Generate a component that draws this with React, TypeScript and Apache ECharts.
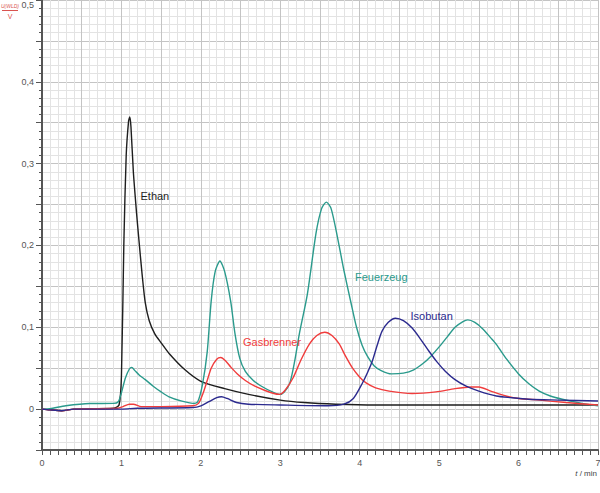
import React, { useEffect, useRef } from "react";
import * as echarts from "echarts";

// [t (min), U (V)]
const ethanData: [number, number][] = [
  [0, 0], [0.1, -0.001], [0.25, -0.002], [0.4, 0], [0.9, 0.001], [0.97, 0.005],
  [1.0, 0.04], [1.03, 0.2], [1.06, 0.31], [1.09, 0.352], [1.105, 0.357], [1.12, 0.345],
  [1.15, 0.29], [1.19, 0.24], [1.22, 0.207], [1.26, 0.165], [1.3, 0.13], [1.35, 0.108],
  [1.42, 0.092], [1.5, 0.081], [1.6, 0.068], [1.8, 0.048], [2.0, 0.034], [2.3, 0.025],
  [2.6, 0.018], [3.0, 0.011], [3.3, 0.008], [3.7, 0.006], [4.2, 0.005], [5, 0.005], [7, 0.005],
];

const feuerzeugData: [number, number][] = [
  [0, 0], [0.1, 0.0005], [0.3, 0.004], [0.6, 0.0068], [0.9, 0.007], [0.96, 0.009],
  [1.0, 0.02], [1.05, 0.038], [1.1, 0.049], [1.13, 0.051], [1.17, 0.047], [1.22, 0.042],
  [1.3, 0.036], [1.4, 0.028], [1.5, 0.021], [1.6, 0.015], [1.75, 0.01], [1.9, 0.007],
  [1.96, 0.009], [2.02, 0.03], [2.08, 0.07], [2.13, 0.132], [2.18, 0.168], [2.24, 0.181],
  [2.3, 0.168], [2.375, 0.132], [2.43, 0.092], [2.49, 0.062], [2.56, 0.046], [2.66, 0.035],
  [2.78, 0.027], [2.9, 0.021], [2.99, 0.018], [3.05, 0.021], [3.12, 0.032], [3.18, 0.058],
  [3.24, 0.092], [3.34, 0.14], [3.45, 0.215], [3.52, 0.245], [3.58, 0.253], [3.64, 0.245],
  [3.72, 0.21], [3.8, 0.17], [3.89, 0.13], [3.96, 0.1], [4.03, 0.078], [4.1, 0.064],
  [4.18, 0.053], [4.27, 0.047], [4.4, 0.043], [4.55, 0.044], [4.68, 0.048], [4.8, 0.056],
  [4.9, 0.065], [5.0, 0.076], [5.1, 0.088], [5.2, 0.1], [5.3, 0.107], [5.36, 0.109],
  [5.45, 0.106], [5.55, 0.098], [5.65, 0.087], [5.72, 0.079], [5.85, 0.061], [6.0, 0.043],
  [6.13, 0.031], [6.26, 0.022], [6.4, 0.016], [6.55, 0.012], [6.8, 0.007], [7, 0.004],
];

const gasbrennerData: [number, number][] = [
  [0, 0], [0.1, -0.001], [0.25, -0.002], [0.4, 0], [0.95, 0.001], [1.02, 0.003],
  [1.1, 0.006], [1.15, 0.006], [1.25, 0.003], [1.5, 0.003], [1.9, 0.004], [1.97, 0.007],
  [2.03, 0.02], [2.08, 0.035], [2.13, 0.05], [2.2, 0.061], [2.25, 0.063], [2.31, 0.059],
  [2.38, 0.051], [2.46, 0.043], [2.56, 0.035], [2.68, 0.028], [2.8, 0.023], [2.92, 0.019],
  [2.99, 0.018], [3.06, 0.023], [3.16, 0.038], [3.26, 0.06], [3.37, 0.08], [3.46, 0.09],
  [3.56, 0.094], [3.65, 0.09], [3.74, 0.08], [3.82, 0.065], [3.91, 0.05], [4.0, 0.039],
  [4.08, 0.032], [4.2, 0.026], [4.37, 0.022], [4.66, 0.019], [4.96, 0.021], [5.2, 0.025],
  [5.4, 0.027], [5.5, 0.027], [5.65, 0.022], [5.84, 0.016], [6.0, 0.013], [6.26, 0.011],
  [6.6, 0.008], [7, 0.005],
];

const isobutanData: [number, number][] = [
  [0, 0], [0.1, -0.001], [0.25, -0.002], [0.4, 0], [1.0, 0], [1.2, 0.001], [1.9, 0.002],
  [2.0, 0.004], [2.1, 0.009], [2.2, 0.014], [2.26, 0.015], [2.33, 0.013], [2.45, 0.008],
  [2.6, 0.006], [3.0, 0.005], [3.6, 0.004], [3.8, 0.006], [3.92, 0.013], [4.03, 0.031],
  [4.1, 0.045], [4.16, 0.059], [4.22, 0.078], [4.28, 0.095], [4.36, 0.106], [4.45, 0.111],
  [4.55, 0.108], [4.66, 0.099], [4.77, 0.085], [4.87, 0.071], [4.97, 0.058], [5.08, 0.046],
  [5.2, 0.036], [5.34, 0.028], [5.5, 0.022], [5.72, 0.016], [5.9, 0.014], [6.13, 0.012],
  [6.5, 0.011], [7, 0.0098],
];

const seriesNames = ["Ethan", "Feuerzeug", "Gasbrenner", "Isobutan"];
const seriesColors = ["#1e1e1e", "#2a9a8c", "#f03c3c", "#2b2a8e"];
// label anchor positions [t, U] (left-middle of text)
const labelAnchors: [number, number][] = [
  [1.24, 0.261],
  [3.94, 0.162],
  [2.53, 0.082],
  [4.64, 0.114],
];

const xMin = 0;
const xMax = 7;
const yMin = -0.05;
const yMax = 0.5;

export default function App() {
  const ref = useRef<HTMLDivElement>(null);
  useEffect(() => {
    if (!ref.current) return;
    const chart = echarts.init(ref.current, null, { renderer: "svg" });
    const datasets = [ethanData, feuerzeugData, gasbrennerData, isobutanData];
    const font = "'Liberation Sans', Arial, sans-serif";
    chart.setOption({
      animation: false,
      backgroundColor: "#ffffff",
      grid: { left: 42, right: 2, top: 0, bottom: 43, outerBoundsMode: "none", containLabel: false },
      xAxis: {
        type: "value",
        min: xMin,
        max: xMax,
        interval: 0.5,
        axisLine: { show: true, onZero: false, lineStyle: { color: "#555", width: 2 } },
        axisTick: { show: true, length: 5, lineStyle: { color: "#555", width: 1 } },
        minorTick: { show: true, splitNumber: 5, length: 5, lineStyle: { color: "#555", width: 1 } },
        splitLine: { show: true, lineStyle: { color: "#c4c4c4", width: 1 } },
        minorSplitLine: { show: true, lineStyle: { color: "#e3e3e3", width: 1 } },
        axisLabel: {
          color: "#555",
          fontSize: 9,
          fontFamily: font,
          margin: 8,
          showMaxLabel: true,
          formatter: (v: number) => (Math.abs(v - Math.round(v)) < 1e-6 ? String(Math.round(v)) : ""),
        },
      },
      yAxis: {
        type: "value",
        min: yMin,
        max: yMax,
        interval: 0.05,
        axisLine: { show: true, onZero: false, lineStyle: { color: "#555", width: 2 } },
        axisTick: { show: true, length: 6, lineStyle: { color: "#555", width: 1 } },
        minorTick: { show: true, splitNumber: 5, length: 3, lineStyle: { color: "#555", width: 1 } },
        splitLine: { show: true, lineStyle: { color: "#c4c4c4", width: 1 } },
        minorSplitLine: { show: true, lineStyle: { color: "#e3e3e3", width: 1 } },
        axisLabel: {
          color: "#555",
          fontSize: 9,
          fontFamily: font,
          margin: 8,
          showMaxLabel: true,
          formatter: (v: number) => {
            const k = Math.round(v * 100);
            if (k % 10 !== 0 || k < 0) return "";
            if (k === 0) return "0";
            const s = (k / 100).toFixed(1).replace(".", ",");
            return k === 50 ? "{top|" + s + "}" : s;
          },
          rich: { top: { fontSize: 9, color: "#555", fontFamily: font, padding: [9, 0, 0, 0] } },
        },
      },
      series: datasets.map((d, i) => ({
        name: seriesNames[i],
        type: "line",
        data: d,
        smooth: 0.25,
        showSymbol: false,
        symbol: "none",
        lineStyle: { color: seriesColors[i], width: 1.4 },
        z: 3 + i,
      })),
    });
    const graphics: any[] = labelAnchors.map((a, i) => {
      const p = chart.convertToPixel({ gridIndex: 0 }, a) as number[];
      return {
        type: "text",
        x: p[0],
        y: p[1],
        z: 100,
        style: {
          text: seriesNames[i],
          fill: seriesColors[i],
          fontSize: 11,
          fontFamily: font,
          textAlign: "left",
          textVerticalAlign: "middle",
        },
      };
    });
    graphics.push(
      {
        type: "text",
        x: 597,
        y: 473,
        style: {
          text: "{i|t} / min",
          rich: { i: { fontStyle: "italic", fontSize: 8, fill: "#444", fontFamily: font } },
          fontSize: 8,
          fill: "#444",
          fontFamily: font,
          textAlign: "right",
          textVerticalAlign: "middle",
        },
      },
      {
        type: "text",
        x: 10,
        y: 6,
        style: {
          text: "U(WLD)",
          fontStyle: "italic",
          fontSize: 5,
          fill: "#d9534f",
          fontFamily: font,
          textAlign: "center",
          textVerticalAlign: "middle",
        },
      },
      {
        type: "line",
        shape: { x1: 2, y1: 10.5, x2: 18, y2: 10.5 },
        style: { stroke: "#d9534f", lineWidth: 1 },
      },
      {
        type: "text",
        x: 10,
        y: 16,
        style: {
          text: "V",
          fontSize: 7,
          fill: "#d9534f",
          fontFamily: font,
          textAlign: "center",
          textVerticalAlign: "middle",
        },
      }
    );
    chart.setOption({ graphic: graphics });
    return () => chart.dispose();
  }, []);
  return (
    <div
      ref={ref}
      style={{ position: "fixed", left: 0, top: 0, width: 600, height: 493, background: "#fff" }}
    />
  );
}
